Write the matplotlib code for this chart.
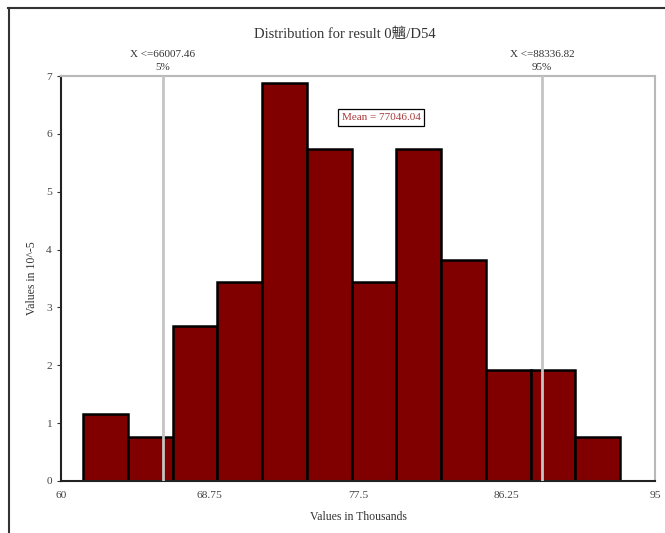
import matplotlib
matplotlib.use("Agg")
import matplotlib.pyplot as plt
from matplotlib.lines import Line2D
import numpy as np

# histogram bins (thousands) and bar heights (density, x 10^-5)
bin_start = 61.30
bin_width = 2.637
densities = [1.15, 0.76, 2.68, 3.44, 6.88, 5.74, 3.44, 5.74, 3.82, 1.91, 1.91, 0.76]

# percentile markers and the mean
p_values = [66.00746, 88.33682]
p_labels = ["X <=66007.46\n5%", "X <=88336.82\n95%"]
mean_text = "Mean = 77046.04"

x_ticks = [60, 68.75, 77.5, 86.25, 95]
x_tick_labels = ["60", "68.75", "77.5", "86.25", "95"]
y_ticks = [0, 1, 2, 3, 4, 5, 6, 7]

SERIF = ["Liberation Serif", "Noto Sans CJK TC", "DejaVu Sans"]
plt.rcParams["font.family"] = SERIF

fig = plt.figure(figsize=(6.65, 5.33), dpi=100)
ax = fig.add_axes([61 / 665, 52 / 533, 594 / 665, 405 / 533])

lefts = bin_start + bin_width * np.arange(len(densities))
ax.bar(lefts, densities, width=bin_width, align="edge",
       color="#800000", edgecolor="black", linewidth=1.8, zorder=2)

for xv in p_values:
    ax.axvline(xv, color="#c4c4c4", linewidth=2, zorder=3)
for xv, lab in zip(p_values, p_labels):
    ax.annotate(lab, xy=(xv, 1), xycoords=("data", "axes fraction"),
                xytext=(0, 3), textcoords="offset points",
                ha="center", va="bottom", fontsize=8, color="#333333",
                linespacing=1.55)

ax.text(0.539, 0.897, mean_text, transform=ax.transAxes, ha="center", va="center",
        fontsize=8, color="#a83a3a",
        bbox=dict(boxstyle="square,pad=0.35", facecolor="white",
                  edgecolor="black", linewidth=0.9), zorder=4)

ax.set_xlim(60, 95)
ax.set_ylim(0, 7)
ax.set_xticks(x_ticks)
ax.set_xticklabels(x_tick_labels)
ax.set_yticks(y_ticks)
ax.tick_params(axis="both", labelsize=8.2, labelcolor="#444444", length=3,
               color="#333333")
ax.tick_params(axis="x", length=0, pad=7)

for side in ("top", "right"):
    ax.spines[side].set_color("#b8b8b8")
    ax.spines[side].set_linewidth(1.5)
for side in ("left", "bottom"):
    ax.spines[side].set_color("#222222")
    ax.spines[side].set_linewidth(1.5)

ax.set_xlabel("Values in Thousands", fontsize=8.5, color="#333333", labelpad=8)
ax.set_ylabel("Values in 10^-5", fontsize=8.5, color="#333333", labelpad=6)
fig.text(345 / 665, 1 - 34 / 533, "Distribution for result 0魑/D54",
         ha="center", va="center", fontsize=10.5, color="#333333", family=SERIF)

# outer frame (top and left edges only)
fig.add_artist(Line2D([8 / 665, 1], [1 - 8 / 533, 1 - 8 / 533],
                      transform=fig.transFigure, color="#333333", linewidth=1.5))
fig.add_artist(Line2D([9 / 665, 9 / 665], [0, 1 - 8 / 533],
                      transform=fig.transFigure, color="#333333", linewidth=1.5))

fig.savefig("out.png", dpi=100)
plt.close(fig)
